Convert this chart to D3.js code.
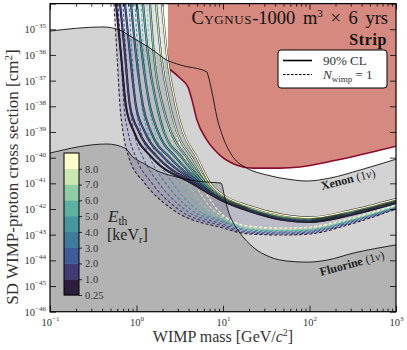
<!DOCTYPE html>
<html>
<head>
<meta charset="utf-8">
<script src="https://cdn.jsdelivr.net/npm/d3@7"></script>
<style>
  body { margin: 0; background: #fff; }
  svg { display: block; }
</style>
</head>
<body>
<svg id="chart" width="407" height="350"></svg>
<script>
// Umbrales de energía (keV_r) y sus colores
const thresholds = [0.25, 1, 2, 3, 4, 5, 6, 7, 8];
const colorbarLabels = ["0.25", "1.0", "2.0", "3.0", "4.0", "5.0", "6.0", "7.0", "8.0"];
const thresholdColors = ['#2b1d3c', '#403b77', '#3e5c99', '#3f7a9c', '#44969f', '#5cb2a1', '#8ecda5', '#cbe8b1', '#fdfdcb'];

// Curvas 90% CL: masa en cada nivel de sigma (pared) y sigma en cada masa (cola)
const solidWallSigma = [1e-34, 1e-36, 1e-38, 1e-39, 1e-40, 1e-41];
const dashedWallSigma = [1e-34, 1e-36, 1e-38, 1e-39, 1e-40, 1e-41, 1e-42];
const tailMass = [10, 20, 50, 100, 300, 1000];

const solidWallMass = [
    [0.579, 0.662, 0.756, 0.936, 1.51, 4.38],
    [0.645, 0.736, 0.841, 1.07, 1.77, 4.75],
    [0.736, 0.841, 0.987, 1.25, 2.08, 5.14],
    [0.864, 0.987, 1.19, 1.47, 2.44, 5.42],
    [1.01, 1.16, 1.43, 1.77, 2.86, 5.71],
    [1.19, 1.36, 1.73, 2.08, 3.36, 6.03],
    [1.43, 1.59, 2.02, 2.50, 3.83, 6.36],
    [1.68, 1.92, 2.44, 2.94, 4.38, 6.71],
    [1.97, 2.25, 2.86, 3.45, 5.00, 7.08]
];
const solidTailSigma = [
    [2.04e-42, 8.3e-43, 3.7e-43, 3.1e-43, 5.8e-43, 1.71e-42],
    [2.23e-42, 9.1e-43, 4.06e-43, 3.4e-43, 6.35e-43, 1.8e-42],
    [2.34e-42, 9.5e-43, 4.25e-43, 3.55e-43, 6.6e-43, 1.87e-42],
    [2.44e-42, 1.0e-42, 4.44e-43, 3.71e-43, 6.95e-43, 1.95e-42],
    [2.55e-42, 1.04e-42, 4.65e-43, 3.9e-43, 7.3e-43, 2.04e-42],
    [2.67e-42, 1.09e-42, 4.85e-43, 4.06e-43, 7.6e-43, 2.13e-42],
    [2.92e-42, 1.14e-42, 5.1e-43, 4.25e-43, 7.95e-43, 2.23e-42],
    [3.2e-42, 1.19e-42, 5.3e-43, 4.44e-43, 8.3e-43, 2.34e-42],
    [3.5e-42, 1.3e-42, 5.8e-43, 4.65e-43, 8.7e-43, 2.44e-42]
];

// Curvas N_wimp = 1
const dashedWallMass = [
    [0.549, 0.595, 0.645, 0.698, 0.819, 1.25, 2.57],
    [0.611, 0.662, 0.717, 0.798, 0.987, 1.51, 3.02],
    [0.698, 0.756, 0.841, 0.936, 1.19, 1.82, 3.54],
    [0.819, 0.887, 0.987, 1.13, 1.43, 2.19, 4.15],
    [0.961, 1.04, 1.16, 1.36, 1.73, 2.64, 4.87],
    [1.13, 1.22, 1.39, 1.64, 2.08, 3.18, 5.71],
    [1.32, 1.43, 1.68, 1.97, 2.50, 3.83, 6.53],
    [1.55, 1.68, 2.02, 2.38, 3.02, 4.62, 7.46],
    [1.82, 2.02, 2.44, 2.86, 3.64, 5.42, 8.52]
];
const dashedTailSigma = [
    [1.81e-43, 1.06e-43, 9.7e-44, 1.06e-43, 2.59e-43, 9.95e-43],
    [2.17e-43, 1.16e-43, 1.06e-43, 1.16e-43, 2.84e-43, 1.04e-42],
    [2.59e-43, 1.26e-43, 1.16e-43, 1.26e-43, 3.1e-43, 1.09e-42],
    [3.1e-43, 1.38e-43, 1.26e-43, 1.38e-43, 3.39e-43, 1.14e-42],
    [3.39e-43, 1.51e-43, 1.38e-43, 1.51e-43, 3.55e-43, 1.19e-42],
    [3.9e-43, 1.66e-43, 1.45e-43, 1.58e-43, 3.71e-43, 1.25e-42],
    [4.44e-43, 1.81e-43, 1.51e-43, 1.66e-43, 3.9e-43, 1.3e-42],
    [5.1e-43, 1.98e-43, 1.66e-43, 1.81e-43, 4.06e-43, 1.36e-42],
    [5.8e-43, 2.17e-43, 1.81e-43, 1.98e-43, 4.44e-43, 1.43e-42]
];

// Suelos de neutrinos y límite existente [masa GeV, sigma cm^2]
const xenonFloor = [
    [0.1, 8.5e-36], [0.41, 1.23e-35], [0.64, 9.3e-36], [0.91, 4.6e-36], [1.43, 1.86e-36],
    [2.25, 6.3e-37], [3.18, 4.1e-37], [6.5, 2.2e-37], [6.7, 1.66e-37], [7.5, 3.3e-38],
    [8.5, 3.8e-39], [10, 6.3e-40], [13.1, 1.05e-40], [18.9, 3.9e-41], [32.3, 2.1e-41],
    [55, 1.47e-41], [93.6, 1.23e-41], [172.6, 1.6e-41], [384, 3.3e-41], [1000, 8.7e-41]
];
const fluorineFloor = [
    [0.1, 1.51e-40], [0.456, 3.4e-40], [0.736, 2.36e-40], [0.91, 1.05e-40], [1.19, 6.1e-41],
    [1.87, 2.75e-41], [2.94, 1.75e-41], [4.15, 1.34e-41], [6.5, 1.12e-41], [9.5, 1.02e-41],
    [10.5, 2.7e-42], [11.4, 9.2e-43], [13.8, 2.2e-43], [15.7, 1.16e-43], [22.2, 3.3e-44],
    [34.9, 1.35e-44], [55, 9.4e-45], [93.6, 8.5e-45], [159, 1.02e-44], [318, 1.9e-44], [1000, 4e-44]
];
const excludedLimit = [
    [2.31, 3.1e-37], [3.18, 1.26e-37], [3.94, 5.6e-38], [4.38, 1.74e-38], [5.0, 2.9e-39],
    [6.5, 4.9e-40], [9.2, 1.26e-40], [14.5, 5.1e-41], [22.2, 3.9e-41], [45.6, 3.9e-41],
    [77.6, 4.3e-41], [208, 8.1e-41], [1000, 2.8e-40]
];

// Ticks de los ejes
const xMajorTicks = [0.1, 1, 10, 100, 1000];
const yExponents = d3.range(-46, -33);
const yLabelExponents = d3.range(-46, -34);

const serif = '"Liberation Serif", "DejaVu Serif", serif';

// Área del gráfico
const plot = { left: 50, right: 396, top: 3.6, bottom: 311.7 };
const x = d3.scaleLog().domain([0.1, 1000]).range([plot.left, plot.right]);
const y = d3.scaleLog().domain([1e-46, 1e-34]).range([plot.bottom, plot.top]);

const svg = d3.select("#chart").attr("font-family", serif);

svg.append("defs").append("clipPath").attr("id", "clip")
    .append("rect")
    .attr("x", plot.left).attr("y", plot.top)
    .attr("width", plot.right - plot.left).attr("height", plot.bottom - plot.top);

const line = d3.line()
    .x(d => x(d[0]))
    .y(d => y(d[1]))
    .curve(d3.curveMonotoneX);

const body = svg.append("g").attr("clip-path", "url(#clip)");

// Regiones debajo de los suelos
const belowPath = pts => line(pts) + `L${x(1000)},${plot.bottom}L${x(0.1)},${plot.bottom}Z`;
body.append("path").attr("d", belowPath(xenonFloor)).attr("fill", "#d3d3d3");
body.append("path").attr("d", belowPath(fluorineFloor)).attr("fill", "#b3b3b3");

// Región excluida (roja)
const first = excludedLimit[0];
body.append("path")
    .attr("d", line(excludedLimit) + `L${x(1000)},${y(1e-34)}L${x(first[0])},${y(1e-34)}Z`)
    .attr("fill", "#d5897f");
body.append("path")
    .attr("d", line(excludedLimit))
    .attr("fill", "none").attr("stroke", "#8b0a2b").attr("stroke-width", 1.6);

// Construir las curvas
const solidCurves = thresholds.map((t, i) =>
    solidWallMass[i].map((m, j) => [m, solidWallSigma[j]])
        .concat(tailMass.map((m, j) => [m, solidTailSigma[i][j]])));
const dashedCurves = thresholds.map((t, i) =>
    dashedWallMass[i].map((m, j) => [m, dashedWallSigma[j]])
        .concat(tailMass.map((m, j) => [m, dashedTailSigma[i][j]])));

// Sombreado entre la mejor curva N=1 y la peor curva 90% CL
const envelope = line(dashedCurves[0]) + "L" +
    line(solidCurves[thresholds.length - 1].slice().reverse()).slice(1) + "Z";
body.append("path").attr("d", envelope).attr("fill", "rgba(60,60,140,0.15)");

thresholds.forEach((t, i) => {
    body.append("path")
        .attr("d", line(dashedCurves[i]))
        .attr("fill", "none")
        .attr("stroke", thresholdColors[i])
        .attr("stroke-width", 1.1)
        .attr("stroke-dasharray", "3,2");
});
thresholds.forEach((t, i) => {
    body.append("path")
        .attr("d", line(solidCurves[i]))
        .attr("fill", "none")
        .attr("stroke", "#1a1a1a")
        .attr("stroke-width", 2.1);
    body.append("path")
        .attr("d", line(solidCurves[i]))
        .attr("fill", "none")
        .attr("stroke", thresholdColors[i])
        .attr("stroke-width", 1.3);
});

// Líneas de los suelos de neutrinos
[xenonFloor, fluorineFloor].forEach(pts => {
    body.append("path")
        .attr("d", line(pts))
        .attr("fill", "none").attr("stroke", "#111").attr("stroke-width", 0.9);
});

// Etiquetas de los suelos
function floorLabel(px, py, angle, name) {
    const t = svg.append("text")
        .attr("transform", `translate(${px},${py}) rotate(${angle})`)
        .attr("font-size", 12).attr("fill", "#222");
    t.append("tspan").attr("font-weight", "bold").text(name);
    t.append("tspan").text(" (1");
    t.append("tspan").attr("font-style", "italic").text("ν");
    t.append("tspan").text(")");
}
floorLabel(322, 190, -14, "Xenon");
floorLabel(321, 276, -15, "Fluorine");

// Ejes con ticks hacia dentro
function powerLabel(sel, e) {
    sel.text(null);
    sel.append("tspan").text("10");
    sel.append("tspan").attr("dy", -5).attr("font-size", 7).text(e < 0 ? "−" + (-e) : e);
}
const xMinorTicks = x.ticks().filter(v => !xMajorTicks.includes(v));
const yMajorTicks = yExponents.map(e => Math.pow(10, e));

function styleAxis(g) {
    g.select(".domain").remove();
    g.attr("font-family", serif).attr("font-size", 10.5);
    g.selectAll("line").attr("stroke", "#000").attr("stroke-width", 0.8);
    g.selectAll("text").attr("fill", "#333");
}

svg.append("g").attr("transform", `translate(0,${plot.bottom})`)
    .call(d3.axisBottom(x).tickValues(xMajorTicks).tickSizeInner(-6).tickSizeOuter(0).tickPadding(7))
    .call(styleAxis)
    .selectAll("text").each(function(d) { powerLabel(d3.select(this), Math.round(Math.log10(d))); });
svg.append("g").attr("transform", `translate(0,${plot.bottom})`)
    .call(d3.axisBottom(x).tickValues(xMinorTicks).tickSizeInner(-3).tickSizeOuter(0).tickFormat(""))
    .call(styleAxis);
svg.append("g").attr("transform", `translate(0,${plot.top})`)
    .call(d3.axisTop(x).tickValues(xMajorTicks).tickSizeInner(-6).tickSizeOuter(0).tickFormat(""))
    .call(styleAxis);
svg.append("g").attr("transform", `translate(0,${plot.top})`)
    .call(d3.axisTop(x).tickValues(xMinorTicks).tickSizeInner(-3).tickSizeOuter(0).tickFormat(""))
    .call(styleAxis);

svg.append("g").attr("transform", `translate(${plot.left},0)`)
    .call(d3.axisLeft(y).tickValues(yMajorTicks).tickSizeInner(-6).tickSizeOuter(0).tickPadding(4))
    .call(styleAxis)
    .selectAll("text").each(function(d) {
        const e = Math.round(Math.log10(d));
        if (yLabelExponents.includes(e)) powerLabel(d3.select(this), e);
        else d3.select(this).remove();
    });
svg.append("g").attr("transform", `translate(${plot.right},0)`)
    .call(d3.axisRight(y).tickValues(yMajorTicks).tickSizeInner(-6).tickSizeOuter(0).tickFormat(""))
    .call(styleAxis);

// Marco
svg.append("rect")
    .attr("x", plot.left).attr("y", plot.top)
    .attr("width", plot.right - plot.left).attr("height", plot.bottom - plot.top)
    .attr("fill", "none").attr("stroke", "#000").attr("stroke-width", 1.2);

// Títulos de los ejes
const xTitle = svg.append("text")
    .attr("x", (plot.left + plot.right) / 2).attr("y", 342)
    .attr("text-anchor", "middle").attr("font-size", 16).attr("fill", "#333");
xTitle.append("tspan").text("WIMP mass [GeV/");
xTitle.append("tspan").attr("font-style", "italic").text("c");
xTitle.append("tspan").attr("dy", -6).attr("font-size", 10).text("2");
xTitle.append("tspan").attr("dy", 6).text("]");

const yTitle = svg.append("text")
    .attr("transform", `translate(18,177) rotate(-90)`)
    .attr("text-anchor", "middle").attr("font-size", 17).attr("fill", "#333");
yTitle.append("tspan").text("SD WIMP-proton cross section [cm");
yTitle.append("tspan").attr("dy", -6).attr("font-size", 11).text("2");
yTitle.append("tspan").attr("dy", 6).text("]");

// Título y etiqueta de lectura
const title = svg.append("text")
    .attr("x", 388).attr("y", 23.5)
    .attr("text-anchor", "end").attr("font-size", 18.5).attr("word-spacing", 3)
    .attr("fill", "#111");
title.append("tspan").attr("font-variant", "small-caps").attr("letter-spacing", 0.6).text("Cygnus");
title.append("tspan").text("-1000 m");
title.append("tspan").attr("dy", -7).attr("font-size", 11).text("3");
title.append("tspan").attr("dy", 7).text(" × 6 yrs");

svg.append("text")
    .attr("x", 387).attr("y", 44.5)
    .attr("text-anchor", "end").attr("font-size", 16).attr("font-weight", "bold")
    .attr("letter-spacing", 0.6).attr("fill", "#111").text("Strip");

// Leyenda
const legend = svg.append("g");
legend.append("rect")
    .attr("x", 278).attr("y", 50).attr("width", 109).attr("height", 38).attr("rx", 3)
    .attr("fill", "#fff").attr("stroke", "#000").attr("stroke-width", 1);
legend.append("line").attr("x1", 283).attr("x2", 312).attr("y1", 60.5).attr("y2", 60.5)
    .attr("stroke", "#000").attr("stroke-width", 1.6);
legend.append("line").attr("x1", 283).attr("x2", 312).attr("y1", 74.5).attr("y2", 74.5)
    .attr("stroke", "#000").attr("stroke-width", 1).attr("stroke-dasharray", "2.5,1.5");
legend.append("text").attr("x", 323).attr("y", 65).attr("font-size", 13).attr("fill", "#333").text("90% CL");
const nLabel = legend.append("text").attr("x", 323).attr("y", 79).attr("font-size", 13).attr("fill", "#333");
nLabel.append("tspan").attr("font-style", "italic").text("N");
nLabel.append("tspan").attr("dy", 3).attr("font-size", 9).text("wimp");
nLabel.append("tspan").attr("dy", -3).text(" = 1");

// Barra de color
const cb = { left: 64, width: 15 };
const cbScale = d3.scaleLinear().domain([0, thresholds.length]).range([295, 153]);
const cbar = svg.append("g");
cbar.selectAll("rect.band")
    .data(thresholds)
    .enter().append("rect")
    .attr("class", "band")
    .attr("x", cb.left).attr("width", cb.width)
    .attr("y", (d, i) => cbScale(i + 1))
    .attr("height", (d, i) => cbScale(i) - cbScale(i + 1) + 0.3)
    .attr("fill", (d, i) => thresholdColors[i]);
cbar.append("rect")
    .attr("x", cb.left).attr("y", cbScale(thresholds.length))
    .attr("width", cb.width).attr("height", cbScale(0) - cbScale(thresholds.length))
    .attr("fill", "none").attr("stroke", "#000").attr("stroke-width", 1);
cbar.append("g").attr("transform", `translate(${cb.left + cb.width},0)`)
    .call(d3.axisRight(cbScale).tickValues(d3.range(thresholds.length))
        .tickFormat(i => colorbarLabels[i]).tickSizeInner(3).tickSizeOuter(0).tickPadding(3))
    .call(styleAxis);

const eLabel = svg.append("text").attr("x", 108).attr("y", 222).attr("font-size", 17).attr("fill", "#222");
eLabel.append("tspan").attr("font-style", "italic").text("E");
eLabel.append("tspan").attr("dy", 3).attr("font-size", 11.5).text("th");
const kLabel = svg.append("text").attr("x", 107).attr("y", 240).attr("font-size", 16).attr("fill", "#222");
kLabel.append("tspan").text("[keV");
kLabel.append("tspan").attr("dy", 3).attr("font-size", 10.5).text("r");
kLabel.append("tspan").attr("dy", -3).text("]");
</script>
</body>
</html>
